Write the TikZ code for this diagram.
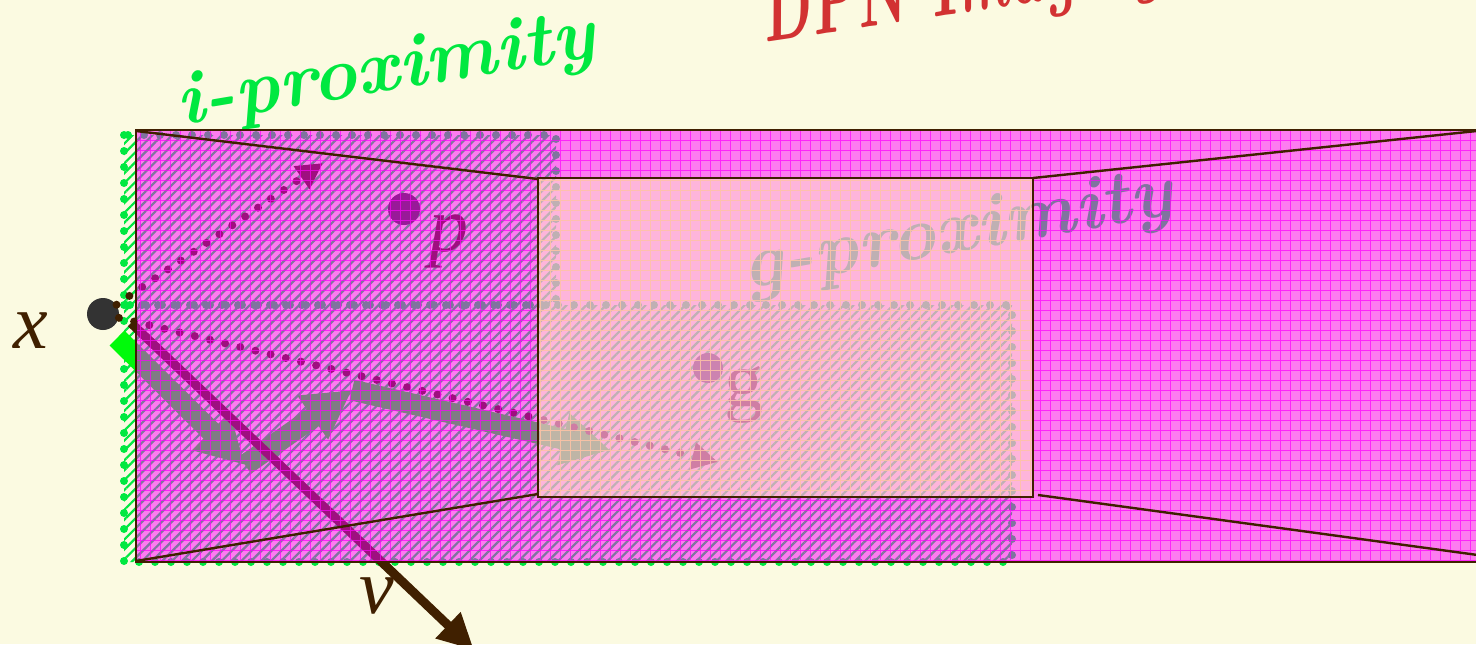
\documentclass[tikz,border=0pt]{standalone}
\usepackage{fix-cm}
\usepackage{fontspec}
\newfontfamily\lblfont{Liberation Serif}
\usetikzlibrary{arrows.meta,patterns.meta}
\definecolor{cream}{RGB}{251,250,225}
\definecolor{brn}{RGB}{64,32,0}
\definecolor{hgreen}{RGB}{0,232,64}
\definecolor{pgreen}{RGB}{0,250,10}
\definecolor{mag}{RGB}{255,0,255}
\definecolor{ylw}{RGB}{255,238,200}
\definecolor{ygrid}{RGB}{255,240,130}
\definecolor{titlered}{RGB}{210,50,50}
\definecolor{dotgrey}{RGB}{51,51,51}
\begin{document}
\begin{tikzpicture}[x=0.5pt,y=-0.5pt,
  gdots/.style={draw=hgreen, line width=4pt, line cap=round, dash pattern=on 0pt off 8pt},
  bdots/.style={draw=brn, line width=4pt, line cap=round, dash pattern=on 0pt off 7.8pt, -{Triangle[length=13pt,width=13pt]}},
  fatarrow/.style={draw=pgreen, line width=10.5pt, -{Triangle[length=24pt,width=25pt]}},
  spot/.style={circle, fill=dotgrey, minimum size=16pt, inner sep=0pt},
  lbl/.style={text=brn, font={\fontsize{39}{39}\selectfont\lblfont\itshape}, inner sep=0pt, anchor=base},
  hand/.style={font=\fontsize{38}{38}\selectfont\bfseries\itshape, inner sep=0pt, anchor=base west},
  border/.style={draw=brn, line width=1.3pt},
]
\clip (0,0) rectangle (1476,644);
\fill[cream] (0,0) rectangle (1476,644);

% title and i-proximity
\node[hand, text=titlered, rotate=8.5, font=\fontsize{46}{46}\selectfont\bfseries\itshape] (title) at (764,43) {\scalebox{0.62}[1]{DPN Imaging}};
\node[hand, text=hgreen, rotate=9.5] (ilabel) at (180,126) {i-proximity};

% x point
\node[spot] (x) at (103,314) {};
\node[lbl] (xl) at (31,348) {x};

% i-proximity region (hatched, dotted)
\fill[pattern={Lines[angle=45,distance=3.5pt,line width=1.1pt]}, pattern color=hgreen, fill opacity=0.75]
  (124,135) -- (556,135) -- (556,305) -- (1012,305) -- (1012,562) -- (124,562) -- cycle;
\draw[gdots] (124,135) rectangle (556,305);
\draw[gdots] (124,305) rectangle (1012,562);

% thick green arrows
\coordinate (S) at (117,338);
\coordinate (A) at (245,465);
\coordinate (B) at (352,390);
\coordinate (C) at (610,450);
\draw[fatarrow] (S) -- (A);
\draw[fatarrow] (A) -- (B);
\draw[fatarrow] (B) -- (C);

% g-proximity text
\node[hand, text=hgreen, rotate=10] (glabel) at (746,290) {g-proximity};

% dotted arrows
\coordinate (t1) at (323,163);
\coordinate (t2) at (718,462);
\draw[bdots] (x) -- (t1);
\draw[bdots] (x) -- (t2);

% points p and g
\node[spot] (p) at (404,209) {};
\node[lbl] (pl) at (449,251) {p};
\node[spot, minimum size=15pt] (g) at (708,368) {};
\node[lbl, font={\fontsize{39}{39}\selectfont\lblfont}] (gl) at (744,406) {g};

% v arrow
\coordinate (vs) at (131,323);
\coordinate (ve) at (474,650);
\draw[brn, line width=4.5pt, -{Triangle[length=18pt,width=17pt]}] (vs) -- (ve);

% magenta overlay
\begin{scope}
  \clip (136,130) rectangle (1540,562);
  \fill[mag, fill opacity=0.5] (136,130) rectangle (1540,562);
  \draw[mag, line width=0.5pt, opacity=0.7, step=5pt] (130,120) grid (1545,570);
\end{scope}

% inner yellow overlay
\begin{scope}
  \clip (538,178) rectangle (1033,497);
  \fill[ylw, fill opacity=0.5] (538,178) rectangle (1033,497);
  \draw[ygrid, line width=0.5pt, opacity=0.55, step=5pt] (530,170) grid (1040,505);
\end{scope}

% borders and perspective lines
\coordinate (o1) at (136,131);
\coordinate (o2) at (1486,130);
\coordinate (o3) at (1529,562);
\coordinate (o4) at (136,561);
\coordinate (i1) at (538,179);
\coordinate (i2) at (1033,178);
\coordinate (i3) at (1038,495);
\coordinate (i4) at (538,494);
\draw[border] (136,130) rectangle (1545,562);
\draw[border] (538,178) rectangle (1033,497);
\draw[brn, line width=1.2pt] (o1) -- (i1);
\draw[brn, line width=1.2pt] (o4) -- (i4);
\draw[brn, line width=1.2pt] (i2) -- (o2);
\draw[brn, line width=1.2pt] (i3) -- (o3);

% v label
\node[lbl] (vl) at (377,613) {v};
\end{tikzpicture}
\end{document}
